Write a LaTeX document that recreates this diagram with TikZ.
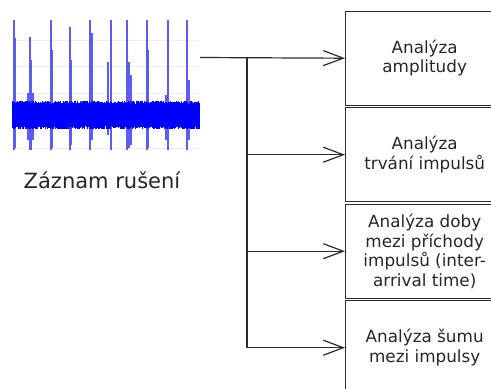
\documentclass[tikz,border=0pt]{standalone}
\usepackage{fontspec}
\setmainfont{DejaVu Sans}
\usetikzlibrary{arrows.meta}
\definecolor{linegray}{HTML}{2B2B2B}
\definecolor{sigblue}{HTML}{0000FF}
\definecolor{spikeblue}{HTML}{5C5CF2}
\begin{document}
\begin{tikzpicture}[x=1pt,y=-1pt,
  box/.style={draw=linegray, line width=1.4pt, minimum width=158pt, minimum height=94pt,
    anchor=north west, align=center, inner sep=0pt, text=black!85,
    font=\fontsize{16.8}{19.5}\selectfont},
  conn/.style={draw=linegray, line width=1.2pt},
  arr/.style={conn, -{Straight Barb[length=20pt,width=15pt,line width=1.2pt]}},
  spike/.style={draw=spikeblue, line width=1.05pt},
  grid/.style={draw=black!7, line width=0.6pt}
]
\useasboundingbox (0,0) rectangle (491,389);
% faint grid of the plot
\foreach \gy in {40,66,93,148}{\draw[grid] (12,\gy) -- (199,\gy);}
% spikes
\foreach \sx/\st/\sb in {14/20/150,15/38/148,28/93/140,30/37/150,31/60/150,33/93/140,51/20/150,52/50/148,
  70/27/150,71/60/145,90/20/150,92/33/140,108/62/135,111/20/150,127/20/150,129/62/148,131/75/145,
  147/20/150,148/50/148,166/95/140,168/20/150,187/20/150,189/80/140}{
  \draw[spike] (\sx,\st) -- (\sx,\sb);
}
% noise band
\fill[sigblue] (12,104) rectangle (199,126);
\pgfmathsetseed{7}
\foreach \x in {12,12.5,...,199}{
  \pgfmathsetmacro{\ya}{104-3.5*rnd}
  \pgfmathsetmacro{\yb}{126+3.5*rnd}
  \draw[sigblue, line width=0.6pt] (\x,\ya) -- (\x,\yb);
}
% label
\node[anchor=base, font=\fontsize{21}{25}\selectfont, text=black!85] (lbl) at (102,188) {Záznam rušení};
% boxes
\node[box] (b1) at (345,10.5) {Analýza\\amplitudy};
\node[box] (b2) at (345,107) {Analýza\\trvání impulsů};
\node[box] (b3) at (345,203.5) {Analýza doby\\mezi příchody\\impulsů (inter-\\arrival time)};
\node[box] (b4) at (345,300) {Analýza šumu\\mezi impulsy};
% connectors
\coordinate (src) at (200,57.5);
\coordinate (j) at (247,57.5);
\draw[arr] (src) -- (b1.west);
\draw[conn] (j) -- (j |- b4.west);
\draw[arr] (j |- b2.west) -- (b2.west);
\draw[arr] (j |- b3.west) -- (b3.west);
\draw[arr] (j |- b4.west) -- (b4.west);
\end{tikzpicture}
\end{document}
